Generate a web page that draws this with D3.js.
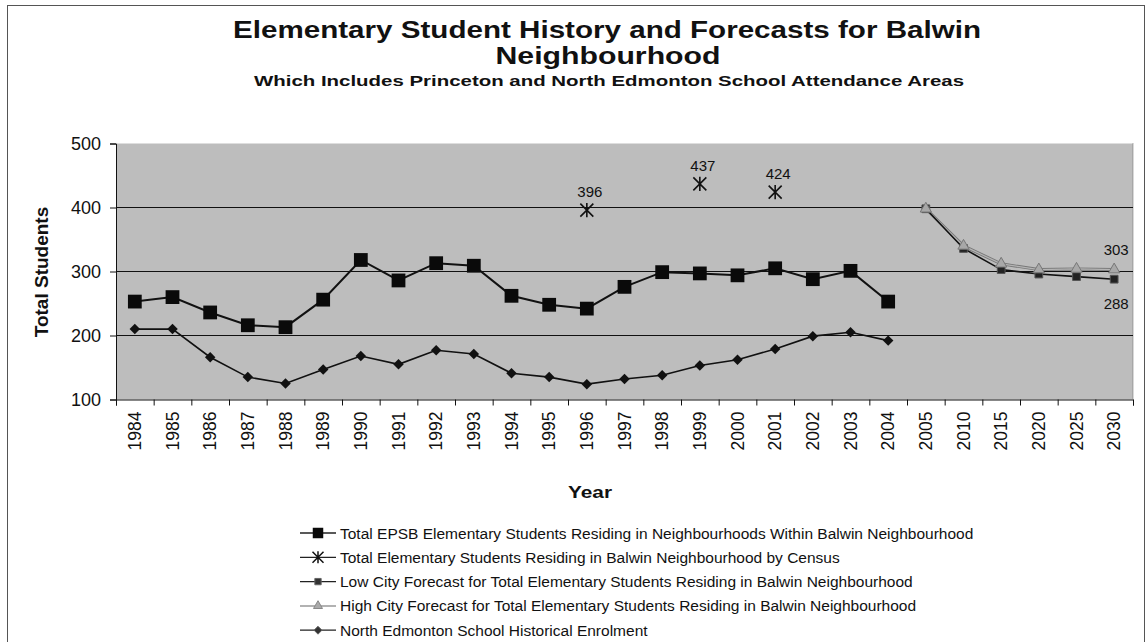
<!DOCTYPE html>
<html lang="en">
<head>
    <meta charset="UTF-8">
    <title>Balwin Neighbourhood</title>
    <script src="https://cdn.jsdelivr.net/npm/d3@7/dist/d3.min.js"></script>
    <style>
        body { margin: 0; background: #fff; }
        text { font-family: "Liberation Sans", Arial, sans-serif; fill: #111; }
    </style>
</head>
<body>
    <svg width="1148" height="642" id="mainsvg" style="display: block;"></svg>
    <script>
        // data
        const categories = ['1984', '1985', '1986', '1987', '1988', '1989', '1990', '1991', '1992', '1993', '1994',
            '1995', '1996', '1997', '1998', '1999', '2000', '2001', '2002', '2003', '2004',
            '2005', '2010', '2015', '2020', '2025', '2030'];
        const histYears = categories.slice(0, 21);
        const epsbValues = [253, 260, 236, 216, 213, 256, 318, 286, 313, 309, 262, 248, 242, 276, 299, 297, 294, 305, 288, 301, 253];
        const northEdValues = [210, 210, 166, 135, 125, 147, 168, 155, 177, 171, 141, 135, 124, 132, 138, 153, 162, 179, 199, 205, 192];
        const censusYears = ['1996', '1999', '2001'];
        const censusValues = [396, 437, 424];
        const forecastYears = ['2005', '2010', '2015', '2020', '2025', '2030'];
        const lowForecast = [398, 336, 303, 296, 292, 288];
        const highForecast = [398, 340, 312, 303, 304, 303];
        const yTicks = [100, 200, 300, 400, 500];
        const legendLabels = [
            'Total EPSB Elementary Students Residing in Neighbourhoods Within Balwin Neighbourhood',
            'Total Elementary Students Residing in Balwin Neighbourhood by Census',
            'Low City Forecast for Total Elementary Students Residing in Balwin Neighbourhood',
            'High City Forecast for Total Elementary Students Residing in Balwin Neighbourhood',
            'North Edmonton School Historical Enrolment'
        ];

        const svg = d3.select('#mainsvg');
        const plot = { left: 116, right: 1133, top: 143.5, bottom: 399.5 };

        // chart border
        svg.append('rect').attr('x', 7.5).attr('y', 5.5).attr('width', 1137).attr('height', 660)
            .attr('fill', 'none').attr('stroke', '#555').attr('stroke-width', 1);

        // titles
        svg.append('text').attr('x', 607).attr('y', 38).attr('text-anchor', 'middle')
            .attr('font-size', 23).attr('font-weight', 'bold').attr('fill', '#333')
            .attr('textLength', 748).attr('lengthAdjust', 'spacingAndGlyphs')
            .text('Elementary Student History and Forecasts for Balwin');
        svg.append('text').attr('x', 608).attr('y', 64).attr('text-anchor', 'middle')
            .attr('font-size', 23).attr('font-weight', 'bold').attr('fill', '#333')
            .attr('textLength', 225).attr('lengthAdjust', 'spacingAndGlyphs')
            .text('Neighbourhood');
        svg.append('text').attr('x', 609).attr('y', 86).attr('text-anchor', 'middle')
            .attr('font-size', 15).attr('font-weight', 'bold').attr('fill', '#222')
            .attr('textLength', 710).attr('lengthAdjust', 'spacingAndGlyphs')
            .text('Which Includes Princeton and North Edmonton School Attendance Areas');

        const x = d3.scaleBand().domain(categories).range([plot.left, plot.right]).padding(0);
        const y = d3.scaleLinear().domain([100, 500]).range([plot.bottom, plot.top]);
        const cx = c => x(c) + x.bandwidth() / 2;

        // plot background and grid
        svg.append('rect').attr('x', plot.left).attr('y', plot.top)
            .attr('width', plot.right - plot.left).attr('height', plot.bottom - plot.top)
            .attr('fill', '#bdbdbd');
        svg.append('line').attr('x1', plot.right).attr('x2', plot.right).attr('y1', plot.top).attr('y2', plot.bottom)
            .attr('stroke', '#666').attr('stroke-dasharray', '1,1');
        svg.selectAll('.grid').data([200, 300, 400]).join('line').attr('class', 'grid')
            .attr('x1', plot.left).attr('x2', plot.right)
            .attr('y1', d => y(d)).attr('y2', d => y(d))
            .attr('stroke', '#111').attr('stroke-width', 1);

        // axes
        const yAxis = d3.axisLeft(y).tickValues(yTicks).tickSize(6).tickPadding(9);
        const yg = svg.append('g').attr('transform', `translate(${plot.left},0)`).call(yAxis);
        yg.selectAll('text').attr('font-size', 18).attr('fill', '#111');
        yg.selectAll('line, path').attr('stroke', '#111');

        const xEdges = d3.scaleLinear().domain([0, categories.length]).range([plot.left, plot.right]);
        const xg = svg.append('g').attr('transform', `translate(0,${plot.bottom})`)
            .call(d3.axisBottom(xEdges).tickValues(d3.range(categories.length + 1)).tickSize(6).tickFormat(''));
        xg.selectAll('line, path').attr('stroke', '#111');

        svg.append('g').selectAll('text').data(categories).join('text')
            .attr('transform', d => `translate(${cx(d) + 6},${plot.bottom + 12}) rotate(-90)`)
            .attr('text-anchor', 'end').attr('font-size', 17.5)
            .text(d => d);

        svg.append('text').attr('transform', 'translate(48,272) rotate(-90)')
            .attr('text-anchor', 'middle').attr('font-size', 19).attr('font-weight', 'bold')
            .text('Total Students');
        svg.append('text').attr('x', 590).attr('y', 498).attr('text-anchor', 'middle')
            .attr('font-size', 17).attr('font-weight', 'bold')
            .attr('textLength', 44).attr('lengthAdjust', 'spacingAndGlyphs')
            .text('Year');

        // marker drawers
        const sym = (type, size) => d3.symbol().type(type).size(size)();
        const asterisk = s => `M${-s},${-s}L${s},${s}M${-s},${s}L${s},${-s}M0,${-s * 1.1}L0,${s * 1.1}`;

        const line = d3.line().x(d => cx(d[0])).y(d => y(d[1]));

        const northEd = histYears.map((c, i) => [c, northEdValues[i]]);
        const epsb = histYears.map((c, i) => [c, epsbValues[i]]);
        const low = forecastYears.map((c, i) => [c, lowForecast[i]]);
        const high = forecastYears.map((c, i) => [c, highForecast[i]]);
        const census = censusYears.map((c, i) => [c, censusValues[i]]);

        // north edmonton
        svg.append('path').datum(northEd).attr('d', line)
            .attr('fill', 'none').attr('stroke', '#111').attr('stroke-width', 1.6);
        svg.selectAll('.ned').data(northEd).join('path').attr('class', 'ned')
            .attr('transform', d => `translate(${cx(d[0])},${y(d[1])})`)
            .attr('d', sym(d3.symbolDiamond2, 70)).attr('fill', '#111');

        // high forecast
        svg.append('path').datum(high).attr('d', line)
            .attr('fill', 'none').attr('stroke', '#777').attr('stroke-width', 3);
        svg.append('path').datum(high).attr('d', line)
            .attr('fill', 'none').attr('stroke', '#b4b4b4').attr('stroke-width', 1.2);
        // low forecast
        svg.append('path').datum(low).attr('d', line)
            .attr('fill', 'none').attr('stroke', '#111').attr('stroke-width', 1.6);
        svg.selectAll('.low').data(low).join('path').attr('class', 'low')
            .attr('transform', d => `translate(${cx(d[0])},${y(d[1])})`)
            .attr('d', sym(d3.symbolSquare, 60)).attr('fill', '#222').attr('stroke', '#555');
        svg.selectAll('.high').data(high).join('path').attr('class', 'high')
            .attr('transform', d => `translate(${cx(d[0])},${y(d[1])})`)
            .attr('d', sym(d3.symbolTriangle, 55)).attr('fill', '#a8a8a8').attr('stroke', '#777');

        // epsb
        svg.append('path').datum(epsb).attr('d', line)
            .attr('fill', 'none').attr('stroke', '#111').attr('stroke-width', 2);
        svg.selectAll('.epsb').data(epsb).join('path').attr('class', 'epsb')
            .attr('transform', d => `translate(${cx(d[0])},${y(d[1])})`)
            .attr('d', sym(d3.symbolSquare, 190)).attr('fill', '#0a0a0a');

        // census
        svg.selectAll('.census').data(census).join('path').attr('class', 'census')
            .attr('transform', d => `translate(${cx(d[0])},${y(d[1])})`)
            .attr('d', asterisk(6.5)).attr('fill', 'none').attr('stroke', '#111').attr('stroke-width', 1.6);
        svg.selectAll('.clab').data(census).join('text').attr('class', 'clab')
            .attr('x', d => cx(d[0]) + 3).attr('y', d => y(d[1]) - 13)
            .attr('text-anchor', 'middle').attr('font-size', 15).text(d => d[1]);

        // end labels of forecasts
        const lastHigh = high[high.length - 1], lastLow = low[low.length - 1];
        svg.append('text').attr('x', cx(lastHigh[0]) + 2).attr('y', y(lastHigh[1]) - 15)
            .attr('text-anchor', 'middle').attr('font-size', 15).text(lastHigh[1]);
        svg.append('text').attr('x', cx(lastLow[0]) + 2).attr('y', y(lastLow[1]) + 30)
            .attr('text-anchor', 'middle').attr('font-size', 15).text(lastLow[1]);

        // legend
        const legY = 533, legStep = 24.3;
        const legend = svg.append('g');
        const rows = legend.selectAll('g').data(legendLabels).join('g')
            .attr('transform', (d, i) => `translate(300,${legY + i * legStep})`);
        rows.append('line').attr('x1', 0).attr('x2', 36).attr('y1', 0).attr('y2', 0)
            .attr('stroke', (d, i) => i === 3 ? '#999' : '#222')
            .attr('stroke-width', (d, i) => i === 3 ? 1.5 : 1.3);
        rows.append('path').attr('transform', 'translate(18,0)')
            .attr('d', (d, i) => [sym(d3.symbolSquare, 110), asterisk(5.5), sym(d3.symbolSquare, 40),
                sym(d3.symbolTriangle, 35), sym(d3.symbolDiamond2, 40)][i])
            .attr('fill', (d, i) => ['#0a0a0a', 'none', '#333', '#aaa', '#333'][i])
            .attr('stroke', (d, i) => ['none', '#111', '#666', '#888', '#666'][i])
            .attr('stroke-width', (d, i) => i === 1 ? 1.5 : 1);
        rows.append('text').attr('x', 40).attr('y', 5.5)
            .attr('font-size', 15.5).text(d => d);
    </script>
</body>
</html>
